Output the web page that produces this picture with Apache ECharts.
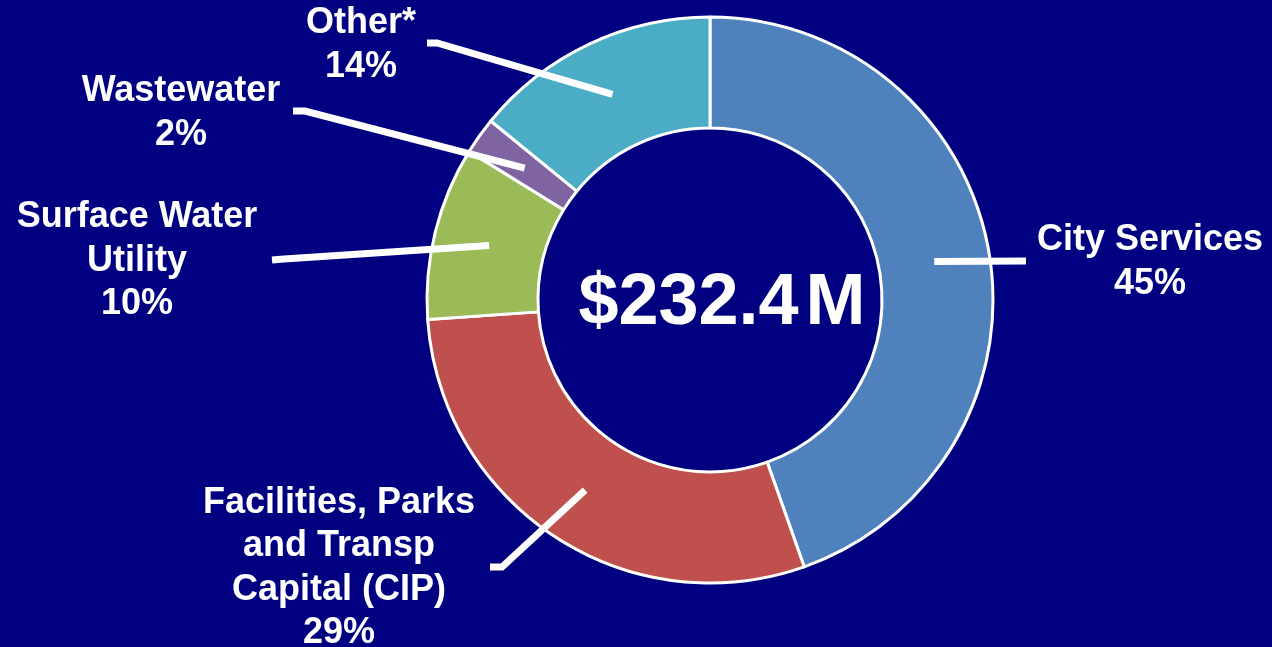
<!DOCTYPE html>
<html>
<head>
<meta charset="utf-8">
<title>Budget donut</title>
<script src="https://cdn.jsdelivr.net/npm/echarts@6/dist/echarts.min.js"></script>
<style>
  html, body { margin: 0; padding: 0; background: #000080; }
  #main { width: 1272px; height: 647px; }
</style>
</head>
<body>
<div id="main"></div>
<script>
// categories and shares (percent of total), clockwise from 12 o'clock
const categories = [
  "City Services",
  "Facilities, Parks\nand Transp\nCapital (CIP)",
  "Surface Water\nUtility",
  "Wastewater",
  "Other*",
];
const shares = [44.6, 29.3, 9.9, 2.1, 14.1];
const colors = ["#4F81BD", "#C0504D", "#9BBB59", "#8064A2", "#4BACC6"];
const totalText = "$232.4";
const totalUnit = "M";

// ring geometry (px)
const cx = 710;
const cy = 300;
const rIn = 172;
const rOut = 283;

// where each leader line bends / ends, and where its label block sits
const labelSpots = [
  { bend: [1026, 261], end: [1026, 261], text: [1150, 262] },
  { bend: [502, 567], end: [490, 567], text: [339, 568] },
  { bend: [284, 259], end: [272, 260], text: [137, 261] },
  { bend: [305, 111], end: [293, 111], text: [181, 113] },
  { bend: [437, 43], end: [427, 43], text: [361, 45] },
];

const total = shares.reduce((a, b) => a + b, 0);

// start of each leader line: middle of the ring, at the middle of the slice
function lineStart(idx) {
  let before = 0;
  for (let i = 0; i < idx; i++) before += shares[i];
  const mid = ((before + shares[idx] / 2) / total) * Math.PI * 2;
  const r = (rIn + rOut) / 2;
  return [cx + r * Math.sin(mid), cy - r * Math.cos(mid)];
}

const chart = echarts.init(document.getElementById("main"));

const font = "Liberation Sans, Arial, sans-serif";
const pieData = categories.map((name, i) => ({ name: name, value: shares[i] }));

const option = {
  backgroundColor: "#000080",
  animation: false,
  color: colors,
  graphic: [
    {
      type: "text",
      x: cx + 12,
      y: cy + 4,
      z: 10,
      style: {
        text: "{a|" + totalText + "}{b|" + totalUnit + "}",
        align: "center",
        verticalAlign: "middle",
        fill: "#fff",
        rich: {
          a: { fontSize: 72, fontWeight: "bold", fontFamily: font, fill: "#fff" },
          b: {
            fontSize: 72,
            fontWeight: "bold",
            fontFamily: font,
            fill: "#fff",
            padding: [0, 0, 0, 7],
          },
        },
      },
    },
  ],
  series: [
    // the ring itself
    {
      type: "pie",
      center: [cx, cy],
      radius: [rIn, rOut],
      startAngle: 90,
      clockwise: true,
      itemStyle: {
        borderColor: "#ffffff",
        borderWidth: 3,
      },
      label: { show: false },
      labelLine: { show: false },
      emphasis: { disabled: true },
      data: pieData,
    },
    // transparent copy on top, only for labels + leader lines (so lines sit over the ring)
    {
      type: "pie",
      z: 5,
      silent: true,
      center: [cx, cy],
      radius: [rIn, rOut],
      startAngle: 90,
      clockwise: true,
      percentPrecision: 0,
      avoidLabelOverlap: false,
      itemStyle: {
        color: "rgba(0,0,0,0)",
        borderWidth: 0,
      },
      label: {
        show: true,
        position: "outside",
        formatter: "{b}\n{d}%",
        color: "#ffffff",
        fontSize: 36,
        fontWeight: "bold",
        fontFamily: font,
        lineHeight: 43.5,
        align: "center",
      },
      labelLine: {
        show: true,
        showAbove: true,
        lineStyle: {
          color: "#ffffff",
          width: 7,
        },
      },
      labelLayout: (params) => {
        const spot = labelSpots[params.dataIndex];
        return {
          x: spot.text[0],
          y: spot.text[1],
          align: "center",
          verticalAlign: "middle",
          labelLinePoints: [lineStart(params.dataIndex), spot.bend, spot.end],
        };
      },
      emphasis: { disabled: true },
      data: pieData,
    },
  ],
};

chart.setOption(option);
</script>
</body>
</html>
